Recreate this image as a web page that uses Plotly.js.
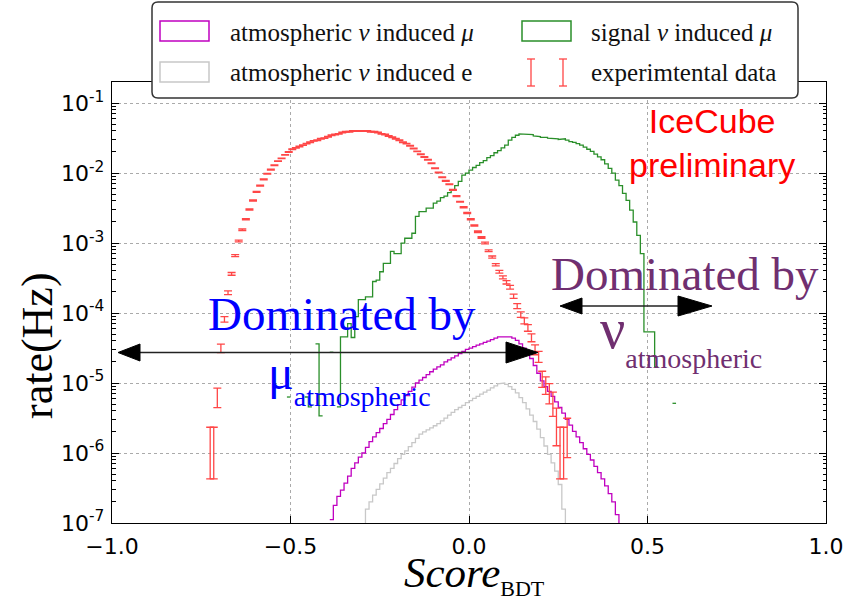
<!DOCTYPE html>
<html><head><meta charset="utf-8">
<script src="https://cdn.plot.ly/plotly-3.0.1.min.js"></script>
<style>html,body{margin:0;padding:0;background:#fff}#chart{width:853px;height:605px}</style>
</head><body><div id="chart"></div>
<script>
// ---------------- data ----------------
const binWidth = 0.01;

// experimental data: first bin centre and rates (Hz)
const dataFirstCenter = -0.725;
const dataRate = [
 1.38e-6,1.38e-6,6.46e-6,3.16e-5,8.13e-5,1.95e-4,3.63e-4,6.61e-4,1.07e-3,1.55e-3,
 2.19e-3,3.02e-3,4.07e-3,5.37e-3,6.61e-3,8.13e-3,9.77e-3,1.12e-2,1.29e-2,1.48e-2,
 1.62e-2,1.82e-2,2.00e-2,2.19e-2,2.29e-2,2.40e-2,2.51e-2,2.63e-2,2.75e-2,2.88e-2,
 2.95e-2,3.09e-2,3.16e-2,3.31e-2,3.47e-2,3.55e-2,3.63e-2,3.80e-2,3.89e-2,3.89e-2,
 3.98e-2,3.98e-2,3.98e-2,3.98e-2,3.98e-2,3.89e-2,3.89e-2,3.80e-2,3.63e-2,3.55e-2,
 3.39e-2,3.24e-2,3.09e-2,2.95e-2,2.75e-2,2.63e-2,2.45e-2,2.24e-2,2.04e-2,1.86e-2,
 1.70e-2,1.55e-2,1.38e-2,1.17e-2,1.02e-2,8.71e-3,7.76e-3,6.92e-3,5.75e-3,4.68e-3,
 3.89e-3,3.24e-3,2.69e-3,2.19e-3,1.78e-3,1.45e-3,1.20e-3,1.00e-3,7.76e-4,6.31e-4,
 4.90e-4,3.89e-4,3.24e-4,2.75e-4,2.34e-4,1.74e-4,1.26e-4,9.55e-5,7.76e-5,6.17e-5,
 4.47e-5,3.02e-5,2.40e-5,1.17e-5,9.55e-6,7.41e-6,5.37e-6,2.82e-6,1.38e-6,1.38e-6,
 2.00e-6
];
// relative statistical error of each data point
const dataRelErr = [
 0.69,0.69,0.31,0.14,0.09,0.06,0.045,0.035,0.03,0.025,
 0.02,0.02,0.02,0.015,0.015,0.015,0.012,0.012,0.01,0.01,
 0.01,0.01,0.01,0.01,0.01,0.01,0.01,0.01,0.01,0.01,
 0.01,0.01,0.01,0.01,0.01,0.01,0.01,0.01,0.01,0.01,
 0.01,0.01,0.01,0.01,0.01,0.01,0.01,0.01,0.01,0.01,
 0.01,0.01,0.01,0.01,0.01,0.01,0.01,0.01,0.01,0.01,
 0.01,0.01,0.01,0.012,0.012,0.012,0.015,0.015,0.015,0.015,
 0.015,0.02,0.02,0.02,0.02,0.025,0.025,0.03,0.03,0.035,
 0.04,0.045,0.05,0.055,0.06,0.07,0.08,0.09,0.10,0.11,
 0.13,0.16,0.18,0.26,0.28,0.32,0.38,0.55,0.69,0.69,
 0.57
];

// atmospheric nu induced mu (histogram, first bin left edge)
const muAtmFirstEdge = -0.39;
const muAtmRate = [
 1.12e-7,1.78e-7,2.40e-7,2.95e-7,3.72e-7,4.68e-7,6.03e-7,7.24e-7,8.71e-7,1.00e-6,
 1.20e-6,1.45e-6,1.70e-6,1.95e-6,2.24e-6,2.63e-6,3.02e-6,3.55e-6,4.17e-6,4.90e-6,
 5.75e-6,6.61e-6,7.59e-6,8.71e-6,1.00e-5,1.10e-5,1.20e-5,1.32e-5,1.45e-5,1.58e-5,
 1.70e-5,1.82e-5,2.00e-5,2.14e-5,2.29e-5,2.45e-5,2.63e-5,2.82e-5,3.02e-5,3.16e-5,
 3.31e-5,3.47e-5,3.63e-5,3.80e-5,3.98e-5,4.17e-5,4.37e-5,4.57e-5,4.68e-5,4.68e-5,
 4.57e-5,4.37e-5,4.07e-5,3.63e-5,3.16e-5,2.75e-5,2.24e-5,1.78e-5,1.38e-5,1.07e-5,
 8.91e-6,7.59e-6,6.46e-6,5.37e-6,4.47e-6,3.72e-6,3.02e-6,2.51e-6,2.04e-6,1.70e-6,
 1.41e-6,1.15e-6,9.55e-7,7.94e-7,6.46e-7,5.25e-7,4.27e-7,3.39e-7,2.63e-7,2.00e-7,
 1.32e-7,7.9e-8
];

// atmospheric nu induced e
const eAtmFirstEdge = -0.30;
const eAtmRate = [
 8.9e-8,1.58e-7,2.00e-7,2.51e-7,3.02e-7,3.63e-7,4.37e-7,5.25e-7,6.03e-7,7.08e-7,
 8.32e-7,9.55e-7,1.07e-6,1.23e-6,1.41e-6,1.62e-6,1.86e-6,2.00e-6,2.14e-6,2.29e-6,
 2.45e-6,2.63e-6,2.88e-6,3.16e-6,3.47e-6,3.80e-6,4.17e-6,4.47e-6,4.79e-6,5.25e-6,
 5.62e-6,6.03e-6,6.46e-6,6.92e-6,7.41e-6,7.94e-6,8.51e-6,9.12e-6,9.77e-6,1.00e-5,
 9.55e-6,8.91e-6,8.13e-6,7.24e-6,6.17e-6,5.25e-6,4.27e-6,3.47e-6,2.82e-6,2.19e-6,
 1.66e-6,1.26e-6,9.55e-7,7.24e-7,5.50e-7,3.55e-7,1.58e-7,7.9e-8
];

// signal nu induced mu (null = empty bin)
const sigFirstEdge = -0.51;
const sigRate = [
 6.31e-6,null,null,null,null,6.31e-6,4.57e-6,null,3.63e-5,3.39e-6,
 null,null,2.75e-5,null,4.57e-6,4.57e-5,4.57e-5,7.08e-5,4.47e-5,8.91e-5,
 1.55e-4,1.55e-4,1.70e-4,1.70e-4,2.82e-4,2.95e-4,3.89e-4,5.13e-4,5.13e-4,7.59e-4,
 7.08e-4,7.08e-4,1.00e-3,1.17e-3,1.17e-3,1.38e-3,2.40e-3,2.82e-3,2.82e-3,3.16e-3,
 3.16e-3,3.72e-3,3.98e-3,4.47e-3,4.68e-3,5.25e-3,5.75e-3,6.61e-3,7.59e-3,9.33e-3,
 1.00e-2,1.10e-2,1.20e-2,1.29e-2,1.41e-2,1.51e-2,1.66e-2,1.78e-2,1.95e-2,2.09e-2,
 2.29e-2,2.51e-2,2.95e-2,3.24e-2,3.47e-2,3.63e-2,3.63e-2,3.55e-2,3.55e-2,3.39e-2,
 3.31e-2,3.24e-2,3.24e-2,3.16e-2,3.16e-2,3.09e-2,3.02e-2,3.09e-2,2.95e-2,2.82e-2,
 2.75e-2,2.63e-2,2.51e-2,2.34e-2,2.19e-2,2.04e-2,1.86e-2,1.70e-2,1.55e-2,1.35e-2,
 1.17e-2,1.00e-2,7.94e-3,6.61e-3,5.13e-3,4.07e-3,2.95e-3,2.00e-3,1.29e-3,7.08e-4,
 5.37e-5,5.37e-5,5.37e-5,1.70e-5,null,null,null,null,5.13e-6
];

const xTickVals = [-1, -0.5, 0, 0.5, 1];
const xTickText = ['\u22121.0', '\u22120.5', '0.0', '0.5', '1.0'];
const yTickVals = [1e-7, 1e-6, 1e-5, 1e-4, 1e-3, 1e-2, 1e-1];
const yTickText = ['10<sup>-7</sup>','10<sup>-6</sup>','10<sup>-5</sup>','10<sup>-4</sup>','10<sup>-3</sup>','10<sup>-2</sup>','10<sup>-1</sup>'];

// ---------------- helpers ----------------
function stepLine(firstEdge, rates) {
  const xs = [], ys = [];
  let prev = null;
  rates.forEach((v, i) => {
    const l = +(firstEdge + i * binWidth).toFixed(4);
    const r = +(l + binWidth).toFixed(4);
    if (v === null) { if (prev !== null) { xs.push(null); ys.push(null); } prev = null; return; }
    xs.push(l); ys.push(v); xs.push(r); ys.push(v);
    prev = v;
  });
  return {x: xs, y: ys};
}
const dataX = dataRate.map((_, i) => +(dataFirstCenter + i * binWidth).toFixed(4));
const dataErr = dataRate.map((v, i) => v * dataRelErr[i]);

const RED = 'rgb(255,70,70)', MAG = '#c000c0', GRN = '#2a8f2a', GRY = '#c8c8c8';
const mu = stepLine(muAtmFirstEdge, muAtmRate);
const ee = stepLine(eAtmFirstEdge, eAtmRate);
const sg = stepLine(sigFirstEdge, sigRate);

const traces = [
  {x: ee.x, y: ee.y, mode: 'lines', line: {color: GRY, width: 1.3}, connectgaps: false, hoverinfo: 'skip'},
  {x: mu.x, y: mu.y, mode: 'lines', line: {color: MAG, width: 1.3}, connectgaps: false, hoverinfo: 'skip'},
  {x: sg.x, y: sg.y, mode: 'lines', line: {color: GRN, width: 1.3}, connectgaps: false, hoverinfo: 'skip'},
  {x: dataX, y: dataRate, mode: 'markers', marker: {size: 2, color: 'rgba(0,0,0,0)'},
   error_y: {type: 'data', array: dataErr, visible: true, color: RED, thickness: 1.3, width: 4}, hoverinfo: 'skip'}
];

// pixel -> paper helpers (plot area: x 112..826, y 82..523)
const PL = 112, PR = 826, PT = 82, PB = 523;
const px = v => (v - PL) / (PR - PL);
const py = v => (PB - v) / (PB - PT);

const shapes = [];
const annotations = [];
function ann(text, x, y, opts) {
  annotations.push(Object.assign({text: text, x: px(x), y: py(y), xref: 'paper', yref: 'paper', showarrow: false}, opts));
}
function tri(x1, y1, x2, y2, x3, y3) {
  shapes.push({type: 'path', xref: 'paper', yref: 'paper', layer: 'above',
    path: `M${px(x1)},${py(y1)} L${px(x2)},${py(y2)} L${px(x3)},${py(y3)} Z`,
    fillcolor: '#000', line: {color: '#000', width: 1}});
}
function seg(x1, y1, x2, y2, color, w) {
  shapes.push({type: 'line', xref: 'paper', yref: 'paper', layer: 'above',
    x0: px(x1), y0: py(y1), x1: px(x2), y1: py(y2), line: {color: color, width: w}});
}
function box(x1, y1, x2, y2, color, w) {
  shapes.push({type: 'rect', xref: 'paper', yref: 'paper', layer: 'above',
    x0: px(x1), y0: py(y1), x1: px(x2), y1: py(y2), line: {color: color, width: w}, fillcolor: 'rgba(0,0,0,0)'});
}

// legend frame with rounded corners
(function(){
  const x0 = 152, x1 = 798, y0 = 2, y1 = 98, r = 6;
  const P = (a, b) => `${px(a)},${py(b)}`;
  const path = `M${P(x0+r,y0)} L${P(x1-r,y0)} Q${P(x1,y0)} ${P(x1,y0+r)} L${P(x1,y1-r)} Q${P(x1,y1)} ${P(x1-r,y1)} L${P(x0+r,y1)} Q${P(x0,y1)} ${P(x0,y1-r)} L${P(x0,y0+r)} Q${P(x0,y0)} ${P(x0+r,y0)} Z`;
  shapes.push({type: 'path', xref: 'paper', yref: 'paper', layer: 'above', path: path,
    fillcolor: '#fff', line: {color: '#333', width: 1.5}});
})();
box(160, 21, 209, 41, MAG, 1.5);
box(160, 62, 209, 82, GRY, 1.5);
box(522, 21, 571, 41, GRN, 1.5);
[531, 563].forEach(x => {
  seg(x, 59, x, 86, RED, 1.3);
  seg(x - 4, 59, x + 4, 59, RED, 1.3);
  seg(x - 4, 86, x + 4, 86, RED, 1.3);
});
const legFont = {family: 'Liberation Serif', size: 25, color: '#111'};
ann('atmospheric <i>\u03bd</i> induced <i>\u03bc</i>', 228, 32, {xanchor: 'left', yanchor: 'middle', font: legFont});
ann('atmospheric <i>\u03bd</i> induced e', 228, 73, {xanchor: 'left', yanchor: 'middle', font: legFont});
ann('signal <i>\u03bd</i> induced <i>\u03bc</i>', 589, 32, {xanchor: 'left', yanchor: 'middle', font: legFont});
ann('experimtental data', 589, 73, {xanchor: 'left', yanchor: 'middle', font: legFont});

// arrows
seg(122, 352.5, 520, 352.5, '#222', 1.5);
tri(118, 352.5, 140, 344, 140, 361);
tri(538, 352.5, 506, 342, 506, 363);
seg(565, 306, 700, 306, '#222', 1.5);
tri(560, 306, 582, 298, 582, 314);
tri(712, 306, 678, 296, 678, 316);

// text annotations
const BLUE = '#0000ff', PURP = '#702f70';
ann('Dominated by', 342, 314, {xanchor: 'center', yanchor: 'middle', font: {family: 'Liberation Serif', size: 47, color: BLUE}});
ann('\u03bc<sub><sub><span style="font-size:28px">atmospheric</span></sub></sub>', 266, 379,
    {xanchor: 'left', yanchor: 'middle', font: {family: 'Liberation Serif', size: 48, color: BLUE}});
ann('Dominated by', 685, 274, {xanchor: 'center', yanchor: 'middle', font: {family: 'Liberation Serif', size: 47, color: PURP}});
ann('\u03bd<sub><sub><span style="font-size:28px">atmospheric</span></sub></sub>', 598, 336,
    {xanchor: 'left', yanchor: 'middle', font: {family: 'Liberation Serif', size: 56, color: PURP}});
ann('IceCube<br>preliminary', 712, 143, {xanchor: 'center', yanchor: 'middle', font: {family: 'Liberation Sans', size: 34, color: '#ff0000'}});

// axis titles
ann('rate(Hz)', 37, 346, {xanchor: 'center', yanchor: 'middle', textangle: -90, font: {family: 'Liberation Serif', size: 44, color: '#000'}});
ann('<i>Score</i><sub><span style="font-size:22px">BDT</span></sub>', 474, 575, {xanchor: 'center', yanchor: 'middle', font: {family: 'Liberation Serif', size: 43, color: '#000'}});

// minor ticks on log axis (2..9 per decade)
const minorVals = [];
for (let d = -7; d < 0; d++) for (let m = 2; m <= 9; m++) minorVals.push(m * Math.pow(10, d));

const layout = {
  width: 853, height: 605,
  margin: {l: PL, r: 853 - PR, t: PT, b: 605 - PB, pad: 0},
  paper_bgcolor: '#fff', plot_bgcolor: '#fff', showlegend: false,
  xaxis: {range: [-1, 1], tickmode: 'array', tickvals: xTickVals, ticktext: xTickText,
    ticks: 'inside', ticklen: 7, tickwidth: 1, tickcolor: '#000',
    showline: true, linecolor: '#000', linewidth: 1.3, mirror: 'ticks',
    showgrid: true, gridcolor: '#aaaaaa', griddash: 'dot', gridwidth: 1, zeroline: false,
    tickfont: {family: 'DejaVu Sans', size: 22, color: '#000'}, ticklabelstandoff: 3},
  yaxis: {type: 'log', range: [-7, Math.log10(0.2)], tickmode: 'array', tickvals: yTickVals, ticktext: yTickText,
    ticks: 'inside', ticklen: 7, tickwidth: 1, tickcolor: '#000',
    minor: {tickvals: minorVals, ticks: 'inside', ticklen: 3.5, tickcolor: '#000', showgrid: false},
    showline: true, linecolor: '#000', linewidth: 1.3, mirror: 'ticks',
    showgrid: true, gridcolor: '#aaaaaa', griddash: 'dot', gridwidth: 1, zeroline: false,
    tickfont: {family: 'DejaVu Sans', size: 22, color: '#000'}, ticklabelstandoff: 2},
  shapes: shapes, annotations: annotations
};

Plotly.newPlot('chart', traces, layout, {staticPlot: true, displayModeBar: false});
</script>
</body></html>
